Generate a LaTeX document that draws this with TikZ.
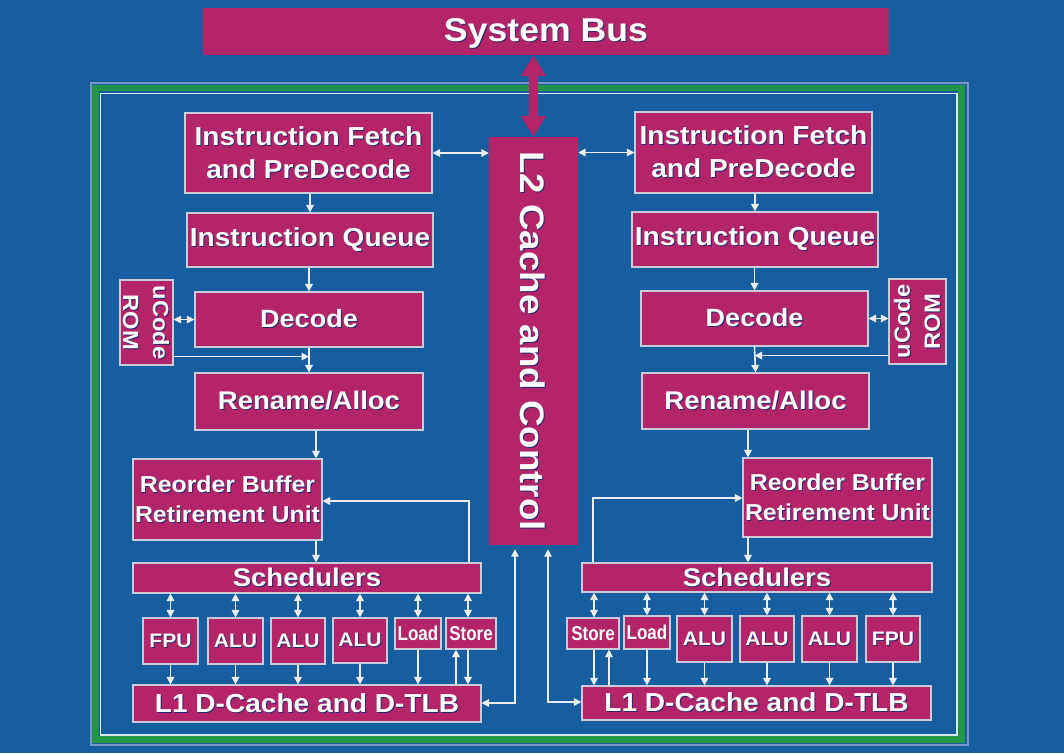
\documentclass[tikz,border=0pt]{standalone}
\usepackage{fontspec}
\setmainfont{Liberation Sans}[FakeStretch=1.08]
\newfontfamily\narrowsans{Liberation Sans}[FakeStretch=0.85]
\usetikzlibrary{arrows.meta,calc}

\definecolor{bgblue}{RGB}{22,94,160}
\definecolor{chipred}{RGB}{180,36,104}
\definecolor{rimgreen}{RGB}{34,150,72}
\definecolor{rimgray}{RGB}{120,150,195}
\definecolor{edgegray}{RGB}{200,204,218}
\definecolor{wirec}{RGB}{236,238,244}
\definecolor{textshade}{RGB}{40,40,110}

% font size helper: size, baseline skip (in px = pt here)
\newcommand\fs[2]{\fontsize{#1}{#2}\selectfont\bfseries}
% text with a dark drop shadow: kern, raise, text
\newcommand\shk[3]{\rlap{\kern#1\raisebox{#2}{\color{textshade}#3}}#3}
\newcommand\sh[1]{\shk{1pt}{-1pt}{#1}}

\tikzset{
  x=1pt, y=-1pt,
  box/.style={draw=edgegray, line width=1.1pt, fill=chipred, inner sep=0pt},
  plainbox/.style={fill=chipred, inner sep=0pt},
  lbl/.style={inner sep=0pt, align=center, text=white},
  wire/.style={draw=wirec, line width=1.6pt},
  >={Triangle[length=7.5pt,width=7.5pt]},
  bigtip/.tip={Triangle[length=21pt,width=24pt]},
}

% block with its label: [label opts]{name}{cx}{cy}{w}{h}{text}
\newcommand\blk[7][]{%
  \node[box, minimum width=#5pt, minimum height=#6pt] (#2) at (#3,#4) {};
  \node[lbl, #1] at (#2.center) {#7};
}

\begin{document}
\begin{tikzpicture}
\useasboundingbox (0,0) rectangle (1064,753);
\fill[bgblue] (0,0) rectangle (1064,753);

% die frame
\draw[rimgray, line width=2pt] (90.5,82.5) rectangle (967.5,745);
\draw[rimgreen, line width=6.5pt] (95.5,88) rectangle (961.5,739.5);
\draw[white!85!bgblue, line width=1.6pt] (100.5,93.5) rectangle (957,735);

% system bus and shared L2
\node[plainbox, minimum width=686pt, minimum height=47pt] (bus) at (546,31.5) {};
\node[lbl, font=\fs{33}{36}] at ($(bus.center)+(0,2.5)$) {\sh{System Bus}};

\node[plainbox, minimum width=89pt, minimum height=408pt] (l2) at (533.5,341) {};
\node[lbl, rotate=-90, font=\fs{34}{36}] at (l2.center) {\shk{1pt}{1pt}{L2 Cache and Control}};

\draw[chipred, line width=9pt, bigtip-bigtip] (l2.north |- bus.south) -- (l2.north);

% ---------------- core 0 (left) ----------------
\blk[font=\fs{26}{33}]{ifL}{308.5}{153}{247}{80}{\sh{Instruction Fetch}\\\sh{and PreDecode}}
\blk[font=\fs{26}{30}]{iqL}{310}{240}{246}{54}{\sh{Instruction Queue}}
\blk[font=\fs{25}{30}]{decL}{309}{319.5}{228}{55}{\sh{Decode}}
\blk[font=\fs{22}{30}, rotate=-90]{romL}{146.5}{322.5}{53}{85}{\shk{1pt}{1pt}{uCode}\\\shk{1pt}{1pt}{ROM}}
\blk[font=\fs{25.5}{30}]{renL}{309}{401.5}{228}{57}{\sh{Rename/Alloc}}
\blk[font=\fs{23}{30}]{robL}{227.5}{499.5}{189}{81}{\sh{Reorder Buffer}\\\sh{Retirement Unit}}
\blk[font=\fs{25.5}{30}]{schL}{307}{578}{348}{30}{\sh{Schedulers}}
\blk[font=\fs{19.5}{22}]{fpuL}{170.5}{641}{55}{46}{\sh{FPU}}
\blk[font=\fs{19.5}{22}]{aluLa}{235.5}{641}{55}{46}{\sh{ALU}}
\blk[font=\fs{19.5}{22}]{aluLb}{298}{641}{54}{46}{\sh{ALU}}
\blk[font=\fs{19.5}{22}]{aluLc}{360}{640.5}{54}{45}{\sh{ALU}}
\blk[font=\narrowsans\fs{20}{22}]{loadL}{418}{633.5}{46}{31}{Load}
\blk[font=\narrowsans\fs{20}{22}]{storeL}{471}{633.5}{50}{31}{Store}
\blk[font=\fs{26}{30}]{l1L}{307}{703.5}{348}{37}{\sh{L1 D-Cache and D-TLB}}

\coordinate (colL) at (316,0);
\coordinate (fbL) at (469,501);
\coordinate (jL) at ($(decL.south)+(0,9)$);
\coordinate (cL) at (515,703);

\draw[wire,<->] (ifL.east) -- (ifL.east -| l2.west);
\draw[wire,->] (iqL.north |- ifL.south) -- (iqL.north);
\draw[wire,->] (decL.north |- iqL.south) -- (decL.north);
\draw[wire,->] (decL.south) -- (renL.north);
\draw[wire,<->] (romL.east |- decL.west) -- (decL.west);
\draw[wire,->] (romL.east |- jL) -- (jL);
\draw[wire,->] (renL.south -| colL) -- (robL.north -| colL);
\draw[wire,->] (robL.south -| colL) -- (schL.north -| colL);
\draw[wire,->] (schL.north -| fbL) -- (fbL) -- (robL.east |- fbL);
\foreach \u in {fpuL,aluLa,aluLb,aluLc,loadL}{
  \draw[wire,<->] (\u.north) -- (\u.north |- schL.south);
  \draw[wire,->] (\u.south) -- (\u.south |- l1L.north);
}
\draw[wire,<->] ([xshift=-3pt]storeL.north) -- ([xshift=-3pt]storeL.north |- schL.south);
\draw[wire,->] ([xshift=-3pt]storeL.south) -- ([xshift=-3pt]storeL.south |- l1L.north);
\draw[wire,->] ([xshift=-15pt]storeL.south |- l1L.north) -- ([xshift=-15pt]storeL.south);
\draw[wire,<->, shorten >=4pt] (l1L.east |- cL) -- (cL) -- (cL |- l2.south);

% ---------------- core 1 (right) ----------------
\blk[font=\fs{26}{33}]{ifR}{753.5}{152.5}{237}{81}{\sh{Instruction Fetch}\\\sh{and PreDecode}}
\blk[font=\fs{26}{30}]{iqR}{755}{239.5}{246}{55}{\sh{Instruction Queue}}
\blk[font=\fs{25}{30}]{decR}{754.5}{318.5}{227}{55}{\sh{Decode}}
\blk[font=\fs{22}{30}, rotate=90]{romR}{917.5}{321.5}{57}{85}{\shk{-1pt}{-1pt}{uCode}\\\shk{-1pt}{-1pt}{ROM}}
\blk[font=\fs{25.5}{30}]{renR}{755.5}{401}{227}{56}{\sh{Rename/Alloc}}
\blk[font=\fs{23}{30}]{robR}{837.5}{497.5}{189}{79}{\sh{Reorder Buffer}\\\sh{Retirement Unit}}
\blk[font=\fs{25.5}{30}]{schR}{757}{577.5}{350}{29}{\sh{Schedulers}}
\blk[font=\narrowsans\fs{20}{22}]{storeR}{593}{633.5}{52}{31}{Store}
\blk[font=\narrowsans\fs{20}{22}]{loadR}{647}{632.5}{46}{33}{Load}
\blk[font=\fs{19.5}{22}]{aluRa}{704.5}{639}{55}{46}{\sh{ALU}}
\blk[font=\fs{19.5}{22}]{aluRb}{767}{639}{54}{46}{\sh{ALU}}
\blk[font=\fs{19.5}{22}]{aluRc}{829.5}{639}{55}{46}{\sh{ALU}}
\blk[font=\fs{19.5}{22}]{fpuR}{893}{639}{54}{46}{\sh{FPU}}
\blk[font=\fs{26}{30}]{l1R}{756.5}{703}{349}{34}{\sh{L1 D-Cache and D-TLB}}

\coordinate (colR) at (748,0);
\coordinate (fbR) at (593,498);
\coordinate (jR) at ($(decR.south)+(0,9)$);
\coordinate (cR) at (548,702);

\draw[wire,<->] (l2.east |- ifR.west) -- (ifR.west);
\draw[wire,->] (iqR.north |- ifR.south) -- (iqR.north);
\draw[wire,->] (decR.north |- iqR.south) -- (decR.north);
\draw[wire,->] (decR.south) -- (renR.north);
\draw[wire,<->] (decR.east) -- (decR.east -| romR.west);
\draw[wire,->] (romR.west |- jR) -- (jR);
\draw[wire,->] (renR.south -| colR) -- (robR.north -| colR);
\draw[wire,->] (robR.south -| colR) -- (schR.north -| colR);
\draw[wire,->] (schR.north -| fbR) -- (fbR) -- (robR.west |- fbR);
\foreach \u in {loadR,aluRa,aluRb,aluRc,fpuR}{
  \draw[wire,<->] (\u.north) -- (\u.north |- schR.south);
  \draw[wire,->] (\u.south) -- (\u.south |- l1R.north);
}
\draw[wire,<->] ([xshift=1pt]storeR.north) -- ([xshift=1pt]storeR.north |- schR.south);
\draw[wire,->] ([xshift=1pt]storeR.south) -- ([xshift=1pt]storeR.south |- l1R.north);
\draw[wire,->] ([xshift=16pt]storeR.south |- l1R.north) -- ([xshift=16pt]storeR.south);
\draw[wire,<->, shorten <=4pt] (cR |- l2.south) -- (cR) -- (l1R.west |- cR);
\end{tikzpicture}
\end{document}
